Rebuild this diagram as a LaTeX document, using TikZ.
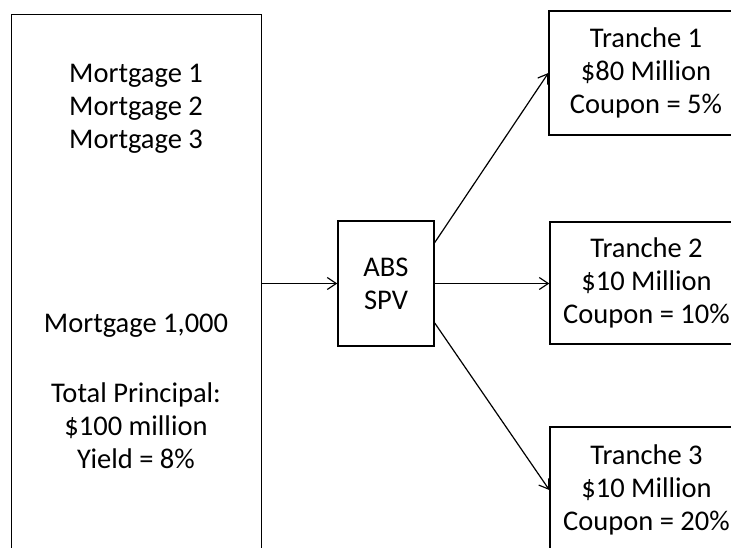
\documentclass[tikz,border=0pt]{standalone}
\usepackage{fontspec}
\setmainfont{Carlito}
\usetikzlibrary{arrows.meta}
\begin{document}
\begin{tikzpicture}[x=1pt,y=1pt,
    box/.style={draw, line width=1.3pt, inner sep=0pt},
    txt/.style={align=center, inner sep=0pt, font=\fontsize{28.5}{33}\selectfont},
    arr/.style={line width=1.2pt, -{Straight Barb[length=9pt,width=12pt]}}]
        \useasboundingbox (0,0) rectangle (731,548);
        \clip (0,0) rectangle (731,548);
        % mortgage pool
        \node[box, minimum width=250pt, minimum height=544pt, anchor=north west] (pool) at (11,534) {};
        \node[txt] (mtop) at (136,439) {Mortgage 1\\Mortgage 2\\Mortgage 3};
        \node[txt] (mlast) at (136,222) {Mortgage 1,000};
        \node[txt] (total) at (136,122) {Total Principal:\\\$100 million\\Yield = 8\%};
        % special purpose vehicle
        \node[box, txt, minimum width=96pt, minimum height=125pt] (spv) at (386,264.5) {ABS\\SPV};
        % tranches
        \node[box, txt, minimum width=194pt, minimum height=124pt] (t1) at (646,475) {Tranche 1\\\$80 Million\\Coupon = 5\%};
        \node[box, txt, minimum width=193pt, minimum height=122pt] (t2) at (646.5,265) {Tranche 2\\\$10 Million\\Coupon = 10\%};
        \node[box, txt, minimum width=193pt, minimum height=126pt] (t3) at (646.5,58) {Tranche 3\\\$10 Million\\Coupon = 20\%};
        \draw[arr] (spv.west -| pool.east) -- (spv.west);
        \draw[arr] (spv.east) -- (spv.east -| t2.west);
        \draw[arr] (spv.40) -- (t1.west);
        \draw[arr] (spv.-39) -- (t3.west);
      \end{tikzpicture}
\end{document}
